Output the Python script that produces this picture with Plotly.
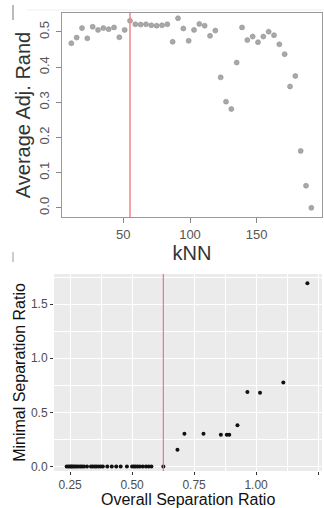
import plotly.graph_objects as go

# ---- top chart data ----
knn = [11, 15, 19, 23, 27, 31, 35, 39, 43, 47, 51, 55, 59, 63, 67, 71, 75, 79, 83, 87,
       91, 95, 99, 103, 107, 111, 115, 119, 123, 127, 131, 135, 139, 143, 147, 151, 155,
       159, 163, 167, 171, 175, 179, 183, 187, 191]
avg_adj_rand = [0.468, 0.484, 0.511, 0.482, 0.515, 0.506, 0.511, 0.508, 0.513, 0.485, 0.506, 0.532,
                0.522, 0.521, 0.522, 0.519, 0.518, 0.519, 0.522,
                0.472, 0.539, 0.510, 0.475, 0.506, 0.523, 0.518, 0.489, 0.504, 0.371, 0.302,
                0.281, 0.413, 0.513, 0.477, 0.487, 0.471, 0.487, 0.501, 0.491, 0.465, 0.437,
                0.345, 0.375, 0.162, 0.063, 0.0]
knn_line = 55
top_xticks = [50, 100, 150]
top_yticks = [0.0, 0.1, 0.2, 0.3, 0.4, 0.5]
top_ylabels = ["0.0", "0.1", "0.2", "0.3", "0.4", "0.5"]

# ---- bottom chart data ----
overall_sep = [0.236, 0.243, 0.249, 0.254, 0.258, 0.264, 0.270, 0.276, 0.283, 0.291, 0.298, 0.306, 0.318,
               0.334, 0.341, 0.349, 0.356, 0.365, 0.374, 0.382,
               0.400, 0.418, 0.436, 0.454, 0.479,
               0.500, 0.507, 0.514, 0.522, 0.531, 0.543, 0.556, 0.567, 0.578,
               0.626,
               0.683, 0.711, 0.788, 0.858, 0.882, 0.892, 0.925, 0.965, 1.016, 1.110, 1.207]
minimal_sep = [0.0] * 35 + [0.155, 0.303, 0.303, 0.293, 0.293, 0.293, 0.380, 0.688, 0.682, 0.775, 1.694]
sep_line = 0.626
bot_xticks = [0.25, 0.50, 0.75, 1.00, 1.25]
bot_xlabels = ["0.25", "0.50", "0.75", "1.00", "1.25"]
bot_yticks = [0.0, 0.5, 1.0, 1.5]
bot_ylabels = ["0.0", "0.5", "1.0", "1.5"]

W, H = 324, 508
def px_x(a, b):
    return [a / W, b / W]
def px_y(top, bottom):
    return [1 - bottom / H, 1 - top / H]

FONT = "Liberation Sans, Arial, sans-serif"

fig = go.Figure()
fig.add_trace(go.Scatter(x=knn, y=avg_adj_rand, mode="markers",
                         marker=dict(color="#a8a8a8", size=5,
                                     line=dict(color="#939393", width=0.6)),
                         xaxis="x", yaxis="y", showlegend=False))
fig.add_trace(go.Scatter(x=overall_sep, y=minimal_sep, mode="markers",
                         marker=dict(color="#111111", size=4),
                         xaxis="x2", yaxis="y2", showlegend=False))

shapes = [
    # ggplot grey panel
    dict(type="rect", xref="x2 domain", yref="y2 domain", x0=0, x1=1, y0=0, y1=1,
         fillcolor="#EBEBEB", line=dict(width=0), layer="below"),
    # red reference lines
    dict(type="line", xref="x", yref="y domain", x0=knn_line, x1=knn_line, y0=0, y1=1,
         line=dict(color="#F28B8B", width=1.6)),
    dict(type="line", xref="x2", yref="y2 domain", x0=sep_line, x1=sep_line, y0=0, y1=1,
         line=dict(color="#E0707A", width=1.1)),
    # faint screenshot edge artefacts
    dict(type="line", xref="paper", yref="paper", x0=13 / W, x1=13 / W,
         y0=1 - 20 / H, y1=1 - 5 / H, line=dict(color="#777", width=1)),
    dict(type="line", xref="paper", yref="paper", x0=13 / W, x1=13 / W,
         y0=1 - 262 / H, y1=1 - 252 / H, line=dict(color="#999", width=1)),
    dict(type="line", xref="paper", yref="paper", x0=27 / W, x1=1,
         y0=1 - 10 / H, y1=1 - 10 / H, line=dict(color="#eeeeee", width=1)),
]

annotations = [
    dict(text="Overall Separation Ratio", xref="x2 domain", yref="paper", x=0.5, y=0,
         xanchor="center", yanchor="bottom", yshift=-2, showarrow=False,
         font=dict(size=16, color="#111")),
]

fig.update_layout(
    width=W, height=H, margin=dict(l=0, r=0, t=0, b=0, autoexpand=False),
    paper_bgcolor="white", plot_bgcolor="rgba(0,0,0,0)",
    font=dict(family=FONT),
    shapes=shapes, annotations=annotations,
    xaxis=dict(domain=px_x(62, 322), range=[4, 199], tickvals=top_xticks,
               ticks="outside", ticklen=5, tickcolor="#888", showline=True, mirror=True,
               linecolor="#999", linewidth=1, showgrid=False, zeroline=False,
               tickfont=dict(size=13, color="#555"), automargin=False,
               title=dict(text="kNN", font=dict(size=20, color="#333"), standoff=0),
               anchor="y"),
    yaxis=dict(domain=px_y(13, 217), range=[-0.026, 0.554], tickvals=top_yticks,
               ticktext=top_ylabels,
               tickangle=-90, ticks="outside", ticklen=5, tickcolor="#888",
               ticklabelstandoff=2,
               showline=True, mirror=True, linecolor="#999", linewidth=1,
               showgrid=False, zeroline=False, automargin=False,
               tickfont=dict(size=13, color="#555"),
               title=dict(text="Average Adj. Rand", font=dict(size=20, color="#333"), standoff=0),
               anchor="x"),
    xaxis2=dict(domain=px_x(54, 322), range=[0.185, 1.266], tickvals=bot_xticks,
                ticktext=bot_xlabels, ticks="outside", ticklen=3, tickcolor="#333",
                showline=False, showgrid=True, gridcolor="white", gridwidth=1.1,
                minor=dict(showgrid=True, gridcolor="white", gridwidth=0.5, dtick=0.125),
                zeroline=False, tickfont=dict(size=12, color="#4D4D4D"), automargin=False,
                anchor="y2"),
    yaxis2=dict(domain=px_y(274, 471), range=[-0.042, 1.779], tickvals=bot_yticks,
                ticktext=bot_ylabels, ticks="outside", ticklen=3, tickcolor="#333",
                showline=False, showgrid=True, gridcolor="white", gridwidth=1.1,
                minor=dict(showgrid=True, gridcolor="white", gridwidth=0.5, dtick=0.25),
                zeroline=False, tickfont=dict(size=12, color="#4D4D4D"), automargin=False,
                title=dict(text="Minimal Separation Ratio", font=dict(size=16, color="#111"), standoff=1),
                anchor="x2"),
)

fig.write_html("out.html")
